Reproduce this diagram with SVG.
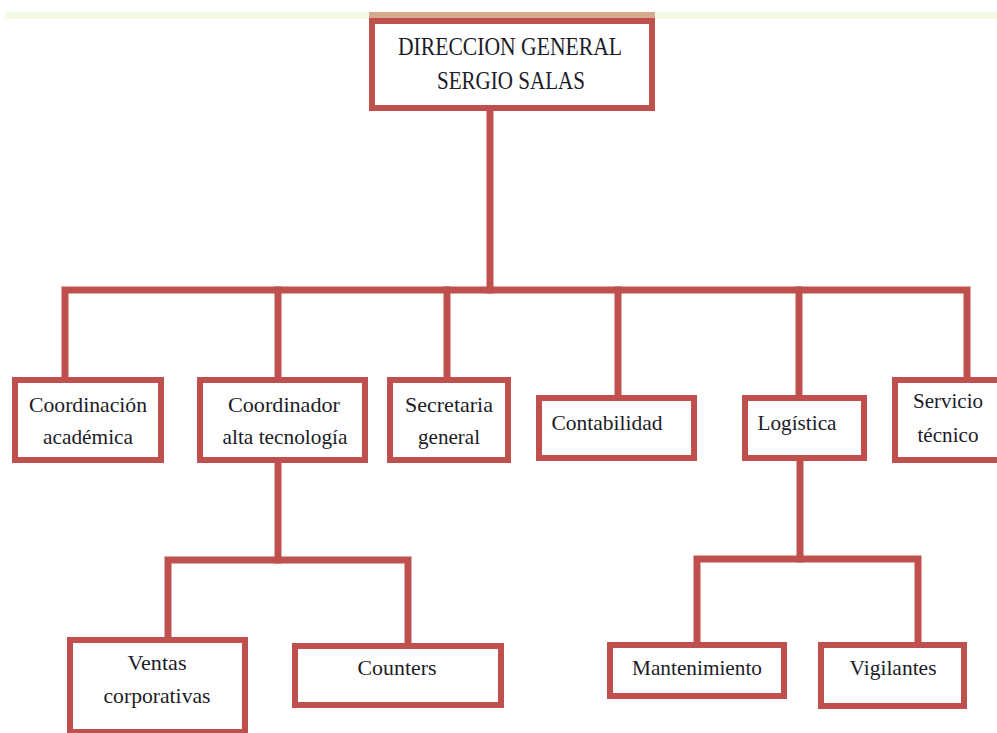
<svg xmlns="http://www.w3.org/2000/svg" width="997" height="733" viewBox="0 0 997 733">
<style>
.box{fill:#fff;stroke:#c0504d;stroke-width:6}
.ln{fill:none;stroke:#c0504d;stroke-width:7;stroke-linejoin:miter;stroke-linecap:square}
text{font-family:'Liberation Serif','DejaVu Serif',serif;fill:#1c1c28;text-anchor:middle}
.t{font-size:21px}
.h{font-size:26px}
</style>
<rect x="5" y="12" width="992" height="7" fill="#f3fae6"/>
<rect x="369" y="12" width="286" height="7" fill="#d6aa8c"/>
<g id="connectors">
<path class="ln" d="M490,111 V290"/>
<path class="ln" d="M65,378 V290 H967 V378"/>
<path class="ln" d="M278,290 V378"/>
<path class="ln" d="M447,290 V378"/>
<path class="ln" d="M618,290 V396"/>
<path class="ln" d="M799,290 V396"/>
<path class="ln" d="M278,462 V560"/>
<path class="ln" d="M168,637 V560 H408 V643"/>
<path class="ln" d="M800,460 V559"/>
<path class="ln" d="M697,642 V559 H918 V642"/>
</g>
<g id="n_dir">
<rect class="box" x="372" y="21" width="280" height="87"/>
<text class="h" font-family="Liberation Serif, serif" x="510" y="55" textLength="224" lengthAdjust="spacingAndGlyphs">DIRECCION GENERAL</text>
<text class="h" font-family="Liberation Serif, serif" x="511" y="89" textLength="148" lengthAdjust="spacingAndGlyphs">SERGIO SALAS</text>
</g>
<g id="n_coord">
<rect class="box" x="15" y="380" width="146" height="80"/>
<text class="t" x="88" y="412" textLength="118" lengthAdjust="spacingAndGlyphs">Coordinación</text>
<text class="t" x="88" y="444" textLength="90" lengthAdjust="spacingAndGlyphs">académica</text>
</g>
<g id="n_alta">
<rect class="box" x="200" y="380" width="165" height="80"/>
<text class="t" x="284" y="412" textLength="112" lengthAdjust="spacingAndGlyphs">Coordinador</text>
<text class="t" x="285" y="444" textLength="125" lengthAdjust="spacingAndGlyphs">alta tecnología</text>
</g>
<g id="n_sec">
<rect class="box" x="390" y="380" width="118" height="80"/>
<text class="t" x="449" y="412" textLength="88" lengthAdjust="spacingAndGlyphs">Secretaria</text>
<text class="t" x="449" y="444" textLength="62" lengthAdjust="spacingAndGlyphs">general</text>
</g>
<g id="n_cont">
<rect class="box" x="539" y="398" width="155" height="60"/>
<text class="t" x="607" y="430" textLength="111" lengthAdjust="spacingAndGlyphs">Contabilidad</text>
</g>
<g id="n_log">
<rect class="box" x="745" y="398" width="119" height="60"/>
<text class="t" x="797" y="430" textLength="79" lengthAdjust="spacingAndGlyphs">Logística</text>
</g>
<g id="n_serv">
<rect class="box" x="895" y="380" width="110" height="80"/>
<text class="t" x="948" y="408" textLength="70" lengthAdjust="spacingAndGlyphs">Servicio</text>
<text class="t" x="948" y="442" textLength="61" lengthAdjust="spacingAndGlyphs">técnico</text>
</g>
<g id="n_ventas">
<rect class="box" x="70" y="640" width="175" height="92"/>
<text class="t" x="157" y="670" textLength="59" lengthAdjust="spacingAndGlyphs">Ventas</text>
<text class="t" x="157" y="703" textLength="107" lengthAdjust="spacingAndGlyphs">corporativas</text>
</g>
<g id="n_count">
<rect class="box" x="295" y="646" width="206" height="59"/>
<text class="t" x="397" y="675" textLength="79" lengthAdjust="spacingAndGlyphs">Counters</text>
</g>
<g id="n_mant">
<rect class="box" x="610" y="645" width="174" height="51"/>
<text class="t" x="697" y="675" textLength="130" lengthAdjust="spacingAndGlyphs">Mantenimiento</text>
</g>
<g id="n_vig">
<rect class="box" x="821" y="645" width="143" height="61"/>
<text class="t" x="893" y="675" textLength="87" lengthAdjust="spacingAndGlyphs">Vigilantes</text>
</g>
</svg>
